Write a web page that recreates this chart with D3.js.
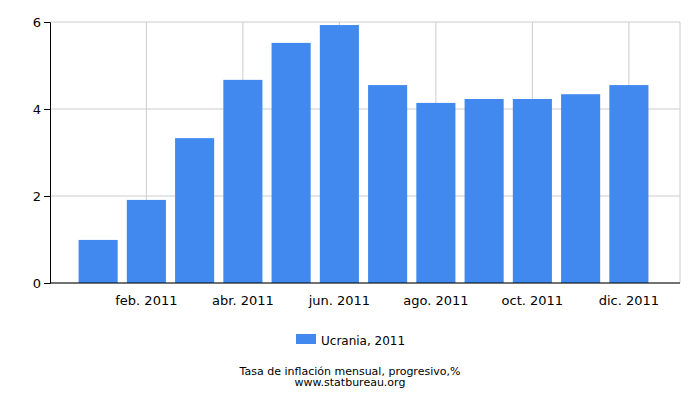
<!DOCTYPE html><html><head><meta charset="utf-8"><script src="https://cdn.jsdelivr.net/npm/d3@7"></script>
<style>body{margin:0;background:#fff}text{font-family:"DejaVu Sans",sans-serif;font-size:13px;fill:#000}</style></head><body><svg width="700" height="400"></svg><script>
const months=["ene. 2011","feb. 2011","mar. 2011","abr. 2011","may. 2011","jun. 2011","jul. 2011","ago. 2011","sep. 2011","oct. 2011","nov. 2011","dic. 2011"];
const values=[0.99,1.91,3.33,4.67,5.52,5.93,4.55,4.14,4.23,4.23,4.34,4.55];
const yTicks=[0,2,4,6];
const shownLabels=["feb. 2011","abr. 2011","jun. 2011","ago. 2011","oct. 2011","dic. 2011"];
const svg=d3.select("svg");
const L=50,R=680,T=22,B=283;
const x=d3.scaleBand().domain(months).range([74,653]).paddingInner(0.19).paddingOuter(0.095);
const y=d3.scaleLinear().domain([0,6]).range([B,T]);
const g=svg.append("g");
yTicks.forEach(t=>g.append("line").attr("x1",L).attr("x2",R).attr("y1",y(t)).attr("y2",y(t)).attr("stroke","#ccc"));
shownLabels.forEach(m=>{const cx=x(m)+x.bandwidth()/2;g.append("line").attr("x1",cx).attr("x2",cx).attr("y1",T).attr("y2",B).attr("stroke","#ccc");});
g.append("line").attr("x1",R).attr("x2",R).attr("y1",T).attr("y2",B).attr("stroke","#ccc");
g.selectAll("rect.b").data(values).join("rect").attr("x",(d,i)=>x(months[i])).attr("width",x.bandwidth()).attr("y",d=>y(d)).attr("height",d=>B-y(d)).attr("fill","#4189ef");
const ya=svg.append("g").attr("transform",`translate(${L},0)`).call(d3.axisLeft(y).tickValues(yTicks).tickSize(6).tickFormat(d3.format("d")));
ya.select(".domain").attr("stroke","#000");ya.selectAll("text").style("font-size","13px").style("font-family","DejaVu Sans");
svg.append("line").attr("x1",L).attr("x2",R).attr("y1",B).attr("y2",B).attr("stroke","#000");
shownLabels.forEach(m=>svg.append("text").attr("x",x(m)+x.bandwidth()/2).attr("y",305).attr("text-anchor","middle").text(m));
svg.append("rect").attr("x",296).attr("y",334).attr("width",20).attr("height",10).attr("fill","#4189ef");
svg.append("text").attr("x",321).attr("y",345).style("font-size","12px").text("Ucrania, 2011");
svg.append("text").attr("x",350).attr("y",375).attr("text-anchor","middle").style("font-size","11px").text("Tasa de inflación mensual, progresivo,%");
svg.append("text").attr("x",350).attr("y",386).attr("text-anchor","middle").style("font-size","11px").text("www.statbureau.org");
</script></body></html>
